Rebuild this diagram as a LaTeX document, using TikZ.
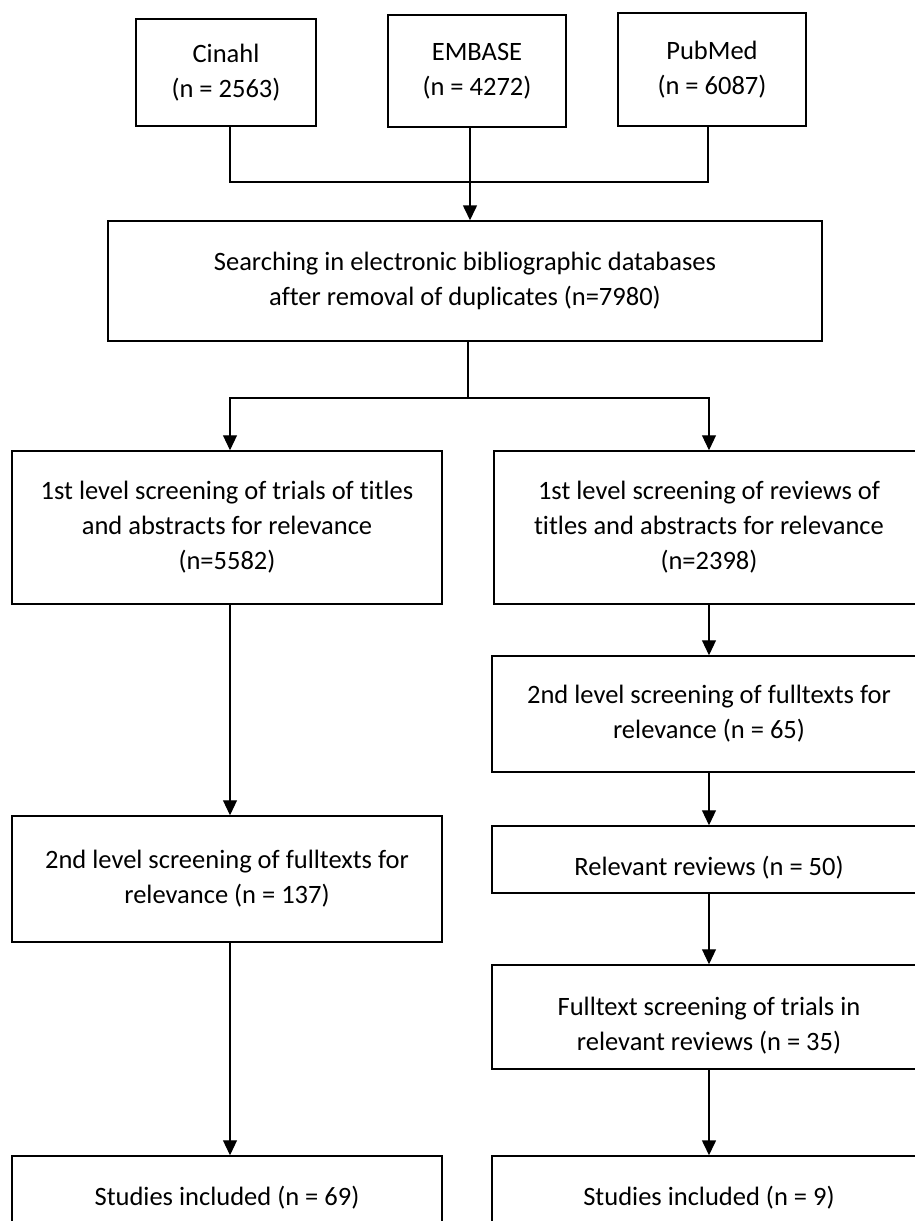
\documentclass[tikz,border=0pt]{standalone}
\usepackage{fontspec}
\setmainfont{Carlito}[Ligatures=NoCommon]
\usetikzlibrary{arrows.meta}
\begin{document}
\begin{tikzpicture}[x=1pt,y=-1pt,
  box/.style={draw, line width=1.5pt, inner sep=0pt, align=center,
    font=\fontsize{26.5}{35}\selectfont},
  conn/.style={line width=1.1pt},
  arr/.style={conn, -{Triangle[length=15pt,width=14pt]}},
  thickarr/.style={arr, line width=1.6pt}]
\path[use as bounding box] (0,0) rectangle (915,1221);
\clip (0,0) rectangle (915,1221);
% top sources
\node[box, minimum width=180pt, minimum height=107pt] (cinahl) at (226,72.5) {Cinahl\\(n = 2563)};
\node[box, minimum width=178pt, minimum height=112pt] (embase) at (477,71) {EMBASE\\(n = 4272)};
\node[box, minimum width=188pt, minimum height=113pt] (pubmed) at (712,69.5) {PubMed\\(n = 6087)};
\node[box, minimum width=714pt, minimum height=120pt] (search) at (465,281) {Searching in electronic bibliographic databases\\after removal of duplicates (n=7980)};
% left column
\node[box, minimum width=430pt, minimum height=153pt] (l1) at (227,527.5) {1st level screening of trials of titles\\and abstracts for relevance\\(n=5582)};
\node[box, minimum width=430pt, minimum height=126pt] (l2) at (227,879) {2nd level screening of fulltexts for\\relevance (n = 137)};
\node[box, minimum width=430pt, minimum height=84pt] (l3) at (227,1198) {Studies included (n = 69)};
% right column
\node[box, minimum width=430pt, minimum height=153pt] (r1) at (709,527.5) {1st level screening of reviews of\\titles and abstracts for relevance\\(n=2398)};
\node[box, minimum width=434pt, minimum height=116pt] (r2) at (709,714) {2nd level screening of fulltexts for\\relevance (n = 65)};
\node[box, minimum width=434pt, minimum height=67pt] (rel) at (709,859.5) {\rule{0pt}{35pt}Relevant reviews (n = 50)};
\node[box, minimum width=434pt, minimum height=104pt] (full) at (709,1017) {\rule{0pt}{35pt}Fulltext screening of trials in\\relevant reviews (n = 35)};
\node[box, minimum width=434pt, minimum height=84pt] (r3) at (709,1198) {Studies included (n = 9)};
% helper coordinates
\coordinate (j1) at (470,182);
\coordinate (j2) at (468,398);
\coordinate (lx) at (230,0);
\coordinate (rx) at (709,0);
% connectors
\draw[conn] ([xshift=4pt]cinahl.south) |- (j1) -| ([xshift=-4pt]pubmed.south);
\draw[thickarr] (embase.south -| j1) -- (search.north -| j1);
\draw[conn] (search.south -| j2) -- (j2);
\draw[arr] (j2) -| (l1.north -| lx);
\draw[arr] (j2) -| (r1.north -| rx);
\draw[arr] (l1.south -| lx) -- (l2.north -| lx);
\draw[arr] (l2.south -| lx) -- (l3.north -| lx);
\draw[arr] (r1.south -| rx) -- (r2.north -| rx);
\draw[arr] (r2.south -| rx) -- (rel.north -| rx);
\draw[arr] (rel.south -| rx) -- (full.north -| rx);
\draw[thickarr] (full.south -| rx) -- (r3.north -| rx);
\end{tikzpicture}
\end{document}
